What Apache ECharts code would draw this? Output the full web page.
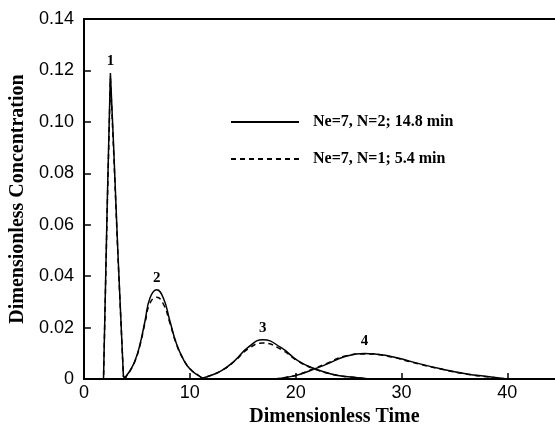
<!DOCTYPE html>
<html>
<head>
<meta charset="utf-8">
<script src="https://cdn.jsdelivr.net/npm/echarts@6/dist/echarts.min.js"></script>
<style>
  html, body { margin: 0; padding: 0; background: #fff; }
  #chart { width: 555px; height: 432px; }
</style>
</head>
<body>
<div id="chart"></div>
<script>
// legend names
const nameSolid = 'Ne=7, N=2; 14.8 min'
const nameDashed = 'Ne=7, N=1; 5.4 min'
const peakLabels = ['1', '2', '3', '4']

// peak 1
const peak1X = [1.4, 1.85, 2.2, 2.5, 2.8, 3.2, 3.73, 4.1]
const peak1Solid = [0, 0, 0.068, 0.119, 0.091, 0.05, 0.001, 0]
const peak1Dashed = [0, 0, 0.066, 0.117, 0.089, 0.049, 0.001, 0]

// peak 2
const peak2X = [3.8, 4.05, 4.36, 4.83, 5.3, 5.77, 6.24, 6.87, 7.5, 8.12, 8.75, 9.38, 10.0, 10.8, 11.4]
const peak2Solid = [0, 0.0015, 0.0033, 0.0072, 0.0136, 0.0226, 0.0315, 0.0347, 0.0315, 0.0226, 0.0136, 0.0078, 0.004, 0.0014, 0]
const peak2Dashed = [0, 0.0014, 0.0032, 0.007, 0.0132, 0.0218, 0.0295, 0.0318, 0.0292, 0.0218, 0.0134, 0.0078, 0.0041, 0.0015, 0]

// peak 3
const peak3X = [10.8, 11.7, 13.0, 14.25, 15.5, 16.9, 18.6, 20.2, 21.8, 23.65, 25.2, 27.0]
const peak3Solid = [0, 0.001, 0.0033, 0.0072, 0.0123, 0.0153, 0.0123, 0.0072, 0.004, 0.0017, 0.0008, 0]
const peak3Dashed = [0, 0.001, 0.0033, 0.007, 0.0117, 0.014, 0.0116, 0.007, 0.0039, 0.0017, 0.0008, 0]

// peak 4
const peak4X = [18.0, 19.3, 20.5, 21.8, 23.0, 24.6, 26.5, 28.7, 31.2, 33.7, 36.2, 38.1, 40.0]
const peak4Solid = [0, 0.0008, 0.002, 0.004, 0.0059, 0.0087, 0.010, 0.0091, 0.0065, 0.004, 0.002, 0.001, 0]
const peak4Dashed = [0, 0.0008, 0.0021, 0.0042, 0.0062, 0.0089, 0.0098, 0.0089, 0.0063, 0.0039, 0.0019, 0.0009, 0]

const serifFont = "'Liberation Serif', 'Times New Roman', serif"
const sansFont = "'Liberation Sans', Arial, sans-serif"

const zip = (xs, ys) => xs.map((x, i) => [x, ys[i]])

function makeSeries(name, xs, ys, dashed, label, smooth) {
  const s = {
    name: name,
    type: 'line',
    data: zip(xs, ys),
    symbol: 'none',
    smooth: smooth,
    silent: true,
    lineStyle: { color: '#000', width: 1.5, type: dashed ? [5, 4] : 'solid' },
    itemStyle: { color: '#000' },
    z: dashed ? 3 : 2
  }
  if (label) {
    s.markPoint = {
      symbol: 'circle',
      symbolSize: 1,
      itemStyle: { color: 'rgba(0,0,0,0)' },
      label: {
        show: true,
        position: 'top',
        distance: 4,
        formatter: label,
        color: '#000',
        fontFamily: serifFont,
        fontWeight: 'bold',
        fontSize: 15
      },
      data: [{ type: 'max', valueDim: 'y' }]
    }
  }
  return s
}

const chart = echarts.init(document.getElementById('chart'), null, { renderer: 'canvas' })

chart.setOption({
  animation: false,
  backgroundColor: '#fff',
  grid: { left: 82, top: 19, right: 0, bottom: 50 },
  legend: {
    data: [nameSolid, nameDashed],
    orient: 'vertical',
    left: 230,
    top: 114,
    padding: 0,
    itemWidth: 68,
    itemHeight: 14,
    itemGap: 21,
    selectedMode: false,
    itemStyle: { color: 'rgba(0,0,0,0)', borderWidth: 0, opacity: 0 },
    textStyle: {
      color: '#000',
      fontFamily: serifFont,
      fontWeight: 'bold',
      fontSize: 16,
      padding: [0, 0, 0, 9]
    }
  },
  xAxis: [
    {
      type: 'value',
      min: 0,
      max: 44.5,
      interval: 10,
      name: 'Dimensionless Time',
      nameLocation: 'middle',
      nameGap: 26,
      nameTextStyle: {
        color: '#000',
        fontFamily: serifFont,
        fontWeight: 'bold',
        fontSize: 20,
        padding: [0, 0, 0, 30]
      },
      axisLine: { lineStyle: { color: '#000', width: 2 } },
      axisTick: { inside: true, length: 6, lineStyle: { color: '#000', width: 1.5 } },
      axisLabel: { color: '#000', fontFamily: sansFont, fontSize: 18, margin: 5, showMaxLabel: false },
      splitLine: { show: false }
    },
    {
      type: 'value',
      position: 'top',
      min: 0,
      max: 44.5,
      axisLine: { show: true, lineStyle: { color: '#000', width: 2 } },
      axisTick: { show: false },
      axisLabel: { show: false },
      splitLine: { show: false }
    }
  ],
  yAxis: {
    type: 'value',
    min: 0,
    max: 0.14,
    interval: 0.02,
    name: 'Dimensionless Concentration',
    nameLocation: 'middle',
    nameGap: 51,
    nameTextStyle: {
      color: '#000',
      fontFamily: serifFont,
      fontWeight: 'bold',
      fontSize: 20
    },
    axisLine: { show: true, lineStyle: { color: '#000', width: 2 } },
    axisTick: { show: true, inside: true, length: 7, lineStyle: { color: '#000', width: 1.5 } },
    axisLabel: {
      color: '#000',
      fontFamily: sansFont,
      fontSize: 18,
      margin: 10,
      formatter: v => (v === 0 ? '0' : v.toFixed(2))
    },
    splitLine: { show: false }
  },
  series: [
    makeSeries(nameSolid, peak1X, peak1Solid, false, peakLabels[0], false),
    makeSeries(nameSolid, peak2X, peak2Solid, false, peakLabels[1], true),
    makeSeries(nameSolid, peak3X, peak3Solid, false, peakLabels[2], true),
    makeSeries(nameSolid, peak4X, peak4Solid, false, peakLabels[3], true),
    makeSeries(nameDashed, peak1X, peak1Dashed, true, null, false),
    makeSeries(nameDashed, peak2X, peak2Dashed, true, null, true),
    makeSeries(nameDashed, peak3X, peak3Dashed, true, null, true),
    makeSeries(nameDashed, peak4X, peak4Dashed, true, null, true)
  ]
})
</script>
</body>
</html>
